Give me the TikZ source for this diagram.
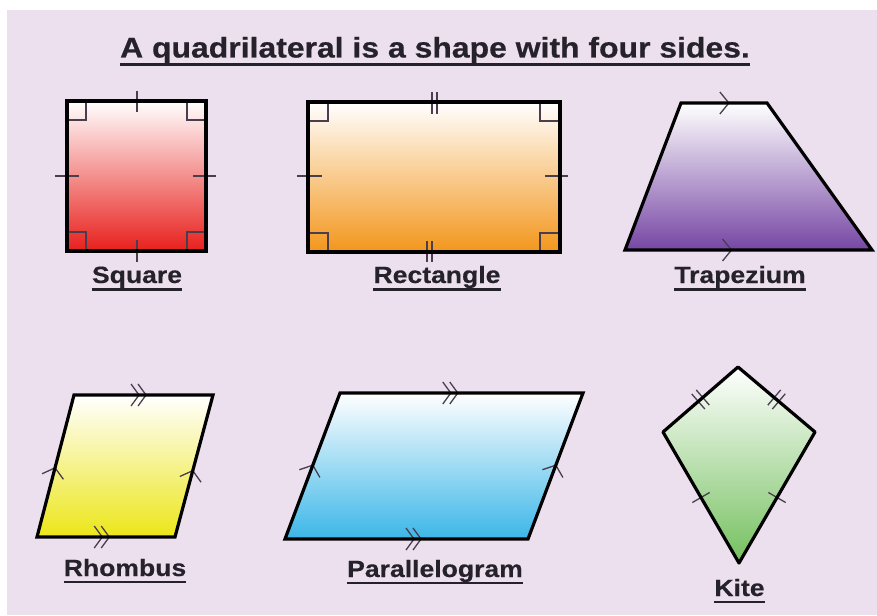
\documentclass[tikz,border=0pt]{standalone}
\usepackage{fontspec}
\setmainfont{Liberation Sans}
\newfontfamily\wideboldfont[FakeStretch=1.12, FakeBold=0.6]{Liberation Sans Bold}
\newfontfamily\lblboldfont[FakeStretch=1.13, FakeBold=0.4]{Liberation Sans Bold}
\usetikzlibrary{decorations.markings}
\definecolor{bgpink}{RGB}{236,224,238}
\definecolor{sqred}{RGB}{232,32,28}
\definecolor{recorange}{RGB}{243,150,28}
\definecolor{trappurple}{RGB}{118,70,164}
\definecolor{rhyellow}{RGB}{236,230,24}
\definecolor{parblue}{RGB}{60,182,232}
\definecolor{kitegreen}{RGB}{116,192,94}
\definecolor{markgray}{RGB}{72,62,78}
\definecolor{labelink}{RGB}{38,34,44}
\newcommand\onechev{\draw[mk] (-5,11) -- (4,0) -- (-5,-11);}
\newcommand\twochev{\draw[mk] (-9,11) -- (-1,0) -- (-9,-11); \draw[mk] (-2,11) -- (6,0) -- (-2,-11);}
\newcommand\onetick{\draw[mk] (0,-10) -- (0,10);}
\newcommand\twotick{\draw[mk] (-3,-10) -- (-3,10); \draw[mk] (3,-10) -- (3,10);}
\begin{document}
\begin{tikzpicture}[x=1pt,y=-1pt,
  outl/.style={draw=black, line width=3.2pt, line join=miter},
  outlt/.style={draw=black, line width=4pt, line join=miter},
  mk/.style={draw=markgray, line width=1.3pt},
  ra/.style={draw=markgray, line width=1.3pt},
  lbl/.style={font=\lblboldfont\fontsize{23.5}{27}\selectfont, text=labelink, inner sep=0pt, anchor=base},
  uline/.style={draw=labelink, line width=2.5pt},
  cA/.style={decorate, decoration={markings, mark=at position #1 with {\onechev}}},
  cB/.style={decorate, decoration={markings, mark=at position #1 with {\twochev}}},
  tA/.style={decorate, decoration={markings, mark=at position #1 with {\onetick}}},
  tB/.style={decorate, decoration={markings, mark=at position #1 with {\twotick}}}]
\useasboundingbox (0,0) rectangle (877,615);
\fill[bgpink] (0,0) rectangle (877,615);
\fill[white] (0,0) rectangle (877,10);
\fill[white] (0,0) rectangle (7,615);

% title
\node[font=\wideboldfont\fontsize{28.5}{33}\selectfont, text=labelink, inner sep=0pt, anchor=base] (title) at (435,57.5) {A quadrilateral is a shape with four sides.};
\draw[uline, line width=3pt] ([yshift=-7pt]title.base west) -- ([yshift=-7pt]title.base east);

% square
\shade[top color=white, bottom color=sqred] (67,101) rectangle (206,251);
\draw[ra] (67,120) -- (86,120) -- (86,101);
\draw[ra] (206,120) -- (187,120) -- (187,101);
\draw[ra] (67,232) -- (86,232) -- (86,251);
\draw[ra] (206,232) -- (187,232) -- (187,251);
\draw[mk] (137,91) -- (137,112);
\draw[mk] (137,240) -- (137,262);
\draw[mk] (55,176) -- (79,176);
\draw[mk] (193,176) -- (216,176);
\draw[outlt] (67,101) rectangle (206,251);
\node[lbl] (sq) at (137,283) {Square};
\draw[uline] ([yshift=-6.5pt]sq.base west) -- ([yshift=-6.5pt]sq.base east);

% rectangle
\shade[top color=white, bottom color=recorange] (308,102) rectangle (560,252);
\draw[ra] (308,121) -- (328,121) -- (328,102);
\draw[ra] (560,121) -- (540,121) -- (540,102);
\draw[ra] (308,233) -- (328,233) -- (328,252);
\draw[ra] (560,233) -- (540,233) -- (540,252);
\draw[mk] (432,92) -- (432,114);
\draw[mk] (437,92) -- (437,114);
\draw[mk] (427,241) -- (427,262);
\draw[mk] (432,241) -- (432,262);
\draw[mk] (297,176) -- (322,176);
\draw[mk] (545,176) -- (568,176);
\draw[outlt] (308,102) rectangle (560,252);
\node[lbl] (re) at (437,283) {Rectangle};
\draw[uline] ([yshift=-6.5pt]re.base west) -- ([yshift=-6.5pt]re.base east);

% trapezium
\shade[top color=white, middle color=trappurple!62!white, bottom color=trappurple] (681,103) -- (767,103) -- (872,250) -- (625,250) -- cycle;
\path[cA=0.51] (681,103) -- (767,103);
\path[cA=0.415] (625,250) -- (872,250);
\draw[outl] (681,103) -- (767,103) -- (872,250) -- (625,250) -- cycle;
\node[lbl] (tr) at (740,283) {Trapezium};
\draw[uline] ([yshift=-6.5pt]tr.base west) -- ([yshift=-6.5pt]tr.base east);

% rhombus
\shade[top color=white, bottom color=rhyellow] (74,395) -- (213,395) -- (175,537) -- (37,537) -- cycle;
\path[cB=0.475] (74,395) -- (213,395);
\path[cB=0.48] (37,537) -- (175,537);
\path[cA=0.46] (37,537) -- (74,395);
\path[cA=0.44] (175,537) -- (213,395);
\draw[outl] (74,395) -- (213,395) -- (175,537) -- (37,537) -- cycle;
\node[lbl] (rh) at (125,576) {Rhombus};
\draw[uline] ([yshift=-6pt]rh.base west) -- ([yshift=-6pt]rh.base east);

% parallelogram
\shade[top color=white, bottom color=parblue] (340,393) -- (583,393) -- (528,539) -- (285,539) -- cycle;
\path[cB=0.46] (340,393) -- (583,393);
\path[cB=0.535] (285,539) -- (528,539);
\path[cA=0.48] (285,539) -- (340,393);
\path[cA=0.48] (528,539) -- (583,393);
\draw[outl] (340,393) -- (583,393) -- (528,539) -- (285,539) -- cycle;
\node[lbl] (pa) at (435,577) {Parallelogram};
\draw[uline] ([yshift=-6pt]pa.base west) -- ([yshift=-6pt]pa.base east);

% kite
\shade[top color=white, bottom color=kitegreen] (738,367) -- (815,432) -- (739,563) -- (663,432) -- cycle;
\path[tB=0.5] (738,367) -- (663,432);
\path[tB=0.5] (738,367) -- (815,432);
\path[tA=0.5] (663,432) -- (739,563);
\path[tA=0.5] (815,432) -- (739,563);
\draw[outl, line join=round] (738,367) -- (815,432) -- (739,563) -- (663,432) -- cycle;
\node[lbl] (ki) at (739.5,596) {Kite};
\draw[uline] ([yshift=-6pt]ki.base west) -- ([yshift=-6pt]ki.base east);
\end{tikzpicture}
\end{document}
